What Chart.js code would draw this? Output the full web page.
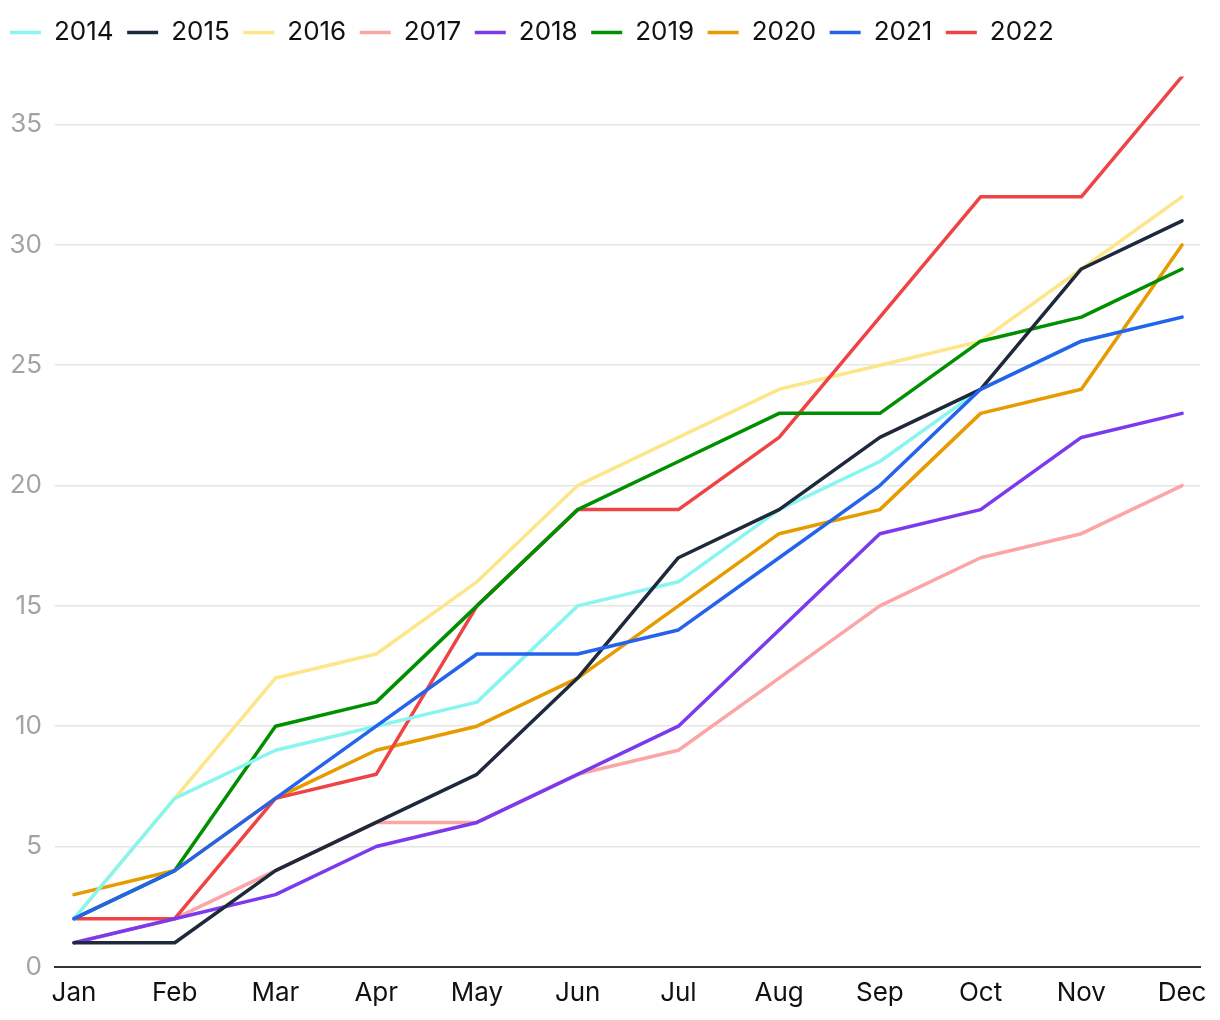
<!DOCTYPE html>
<html lang="en">
<head>
    <meta charset="UTF-8">
    <title>Yearly lines</title>
    <script src="https://cdn.jsdelivr.net/npm/chart.js"></script>
    <style>
        body {
            margin: 0;
            background: #fff;
        }

        #wrap {
            width: 1220px;
            height: 1020px;
        }
    </style>
</head>
<body>
    <div id="wrap"><canvas id="lines"></canvas></div>

    <script>
        const months = ["Jan", "Feb", "Mar", "Apr", "May", "Jun", "Jul", "Aug", "Sep", "Oct", "Nov", "Dec"];
        const yTicks = [0, 5, 10, 15, 20, 25, 30, 35];

        const y2014 = [2, 7, 9, 10, 11, 15, 16, 19, 21, 24, 26, 27];
        const y2015 = [1, 1, 4, 6, 8, 12, 17, 19, 22, 24, 29, 31];
        const y2016 = [2, 7, 12, 13, 16, 20, 22, 24, 25, 26, 29, 32];
        const y2017 = [1, 2, 4, 6, 6, 8, 9, 12, 15, 17, 18, 20];
        const y2018 = [1, 2, 3, 5, 6, 8, 10, 14, 18, 19, 22, 23];
        const y2019 = [2, 4, 10, 11, 15, 19, 21, 23, 23, 26, 27, 29];
        const y2020 = [3, 4, 7, 9, 10, 12, 15, 18, 19, 23, 24, 30];
        const y2021 = [2, 4, 7, 10, 13, 13, 14, 17, 20, 24, 26, 27];
        const y2022 = [2, 2, 7, 8, 15, 19, 19, 22, 27, 32, 32, 37];

        // [label, values, colour, paint order (lower = on top)]
        const series = [
            ["2014", y2014, "#88f5f0", 4],
            ["2015", y2015, "#1e293b", 2],
            ["2016", y2016, "#fde68a", 8],
            ["2017", y2017, "#fca5a5", 9],
            ["2018", y2018, "#7c3aed", 3],
            ["2019", y2019, "#008f00", 5],
            ["2020", y2020, "#e69b00", 7],
            ["2021", y2021, "#2563eb", 1],
            ["2022", y2022, "#ef4444", 6]
        ];

        // linear x so the first/last month sit a little inside the plot
        const datasets = series.map(function (s) {
            return {
                label: s[0],
                data: s[1].map((v, k) => ({ x: k, y: v })),
                borderColor: s[2],
                backgroundColor: s[2],
                borderWidth: 3.5,
                borderCapStyle: 'round',
                borderJoinStyle: 'round',
                pointRadius: 0,
                tension: 0,
                order: s[3]
            };
        });

        // a bit more room under the legend, and pull it to the left edge
        const legendSpace = {
            id: 'legendSpace',
            beforeInit(chart) {
                const fit = chart.legend.fit;
                chart.legend.fit = function () {
                    fit.call(this);
                    this.height += 21;
                };
            },
            afterLayout(chart) {
                chart.legend.left -= 3.5;
            }
        };

        new Chart(document.getElementById('lines'), {
            type: 'line',
            data: { datasets: datasets },
            plugins: [legendSpace],
            options: {
                responsive: true,
                maintainAspectRatio: false,
                animation: false,
                layout: { padding: { top: 6, right: 20, bottom: 8, left: 0 } },
                plugins: {
                    tooltip: { enabled: false },
                    legend: {
                        position: 'top',
                        align: 'start',
                        labels: {
                            usePointStyle: true,
                            pointStyle: 'line',
                            pointStyleWidth: 31,
                            color: '#111',
                            padding: 13.5,
                            font: { family: 'Inter', size: 26 },
                            sort: (a, b) => a.datasetIndex - b.datasetIndex
                        }
                    }
                },
                scales: {
                    x: {
                        type: 'linear',
                        min: -0.1886,
                        max: 11.178,
                        afterBuildTicks: function (scale) {
                            scale.ticks = months.map((m, i) => ({ value: i }));
                        },
                        grid: { display: false },
                        border: { display: true, color: '#333', width: 2 },
                        ticks: {
                            autoSkip: false,
                            maxRotation: 0,
                            padding: 3,
                            color: '#111',
                            font: { family: 'Inter', size: 26 },
                            callback: function (v) { return months[v]; }
                        }
                    },
                    y: {
                        min: 0,
                        max: 37,
                        afterBuildTicks: function (scale) {
                            scale.ticks = yTicks.map(v => ({ value: v }));
                        },
                        afterFit: function (scale) { scale.width = 55; },
                        grid: { color: '#e5e5e5', lineWidth: 1.5, drawTicks: false },
                        border: { display: false },
                        ticks: {
                            padding: 13,
                            color: '#a3a3a3',
                            font: { family: 'Inter', size: 26 }
                        }
                    }
                }
            }
        });
    </script>
</body>
</html>
